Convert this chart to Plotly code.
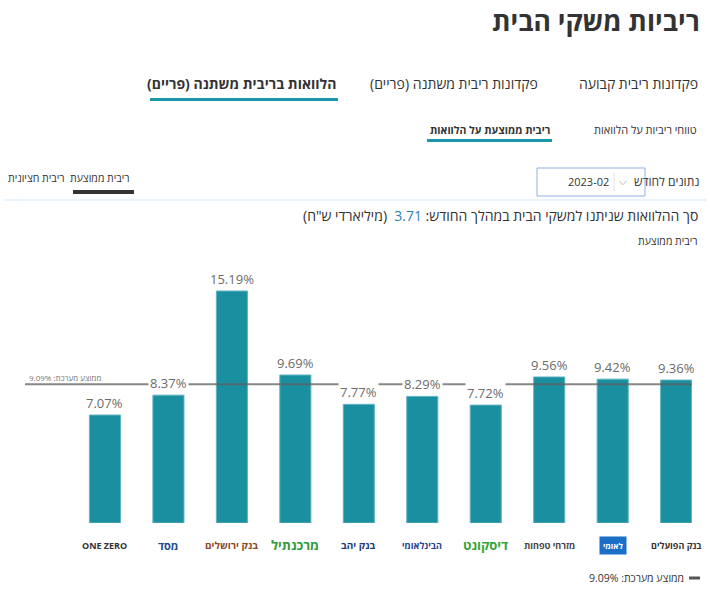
import plotly.graph_objects as go

# ---- data ----
banks = ["ONE ZERO", "מסד", "בנק ירושלים", "מרכנתיל", "בנק יהב",
         "הבינלאומי", "דיסקונט", "מזרחי טפחות", "לאומי", "בנק הפועלים"]
rates = [7.07, 8.37, 15.19, 9.69, 7.77, 8.29, 7.72, 9.56, 9.42, 9.36]
system_avg = 9.09
total_loans = 3.71
month = "2023-02"

# logo stand-ins (text colour, background)
logo_fg = ["#333333", "#1d4b8f", "#8a4b2a", "#2e9a3c", "#1f3d7a",
           "#24418f", "#38a436", "#444444", "#ffffff", "#333333"]
logo_bg = [None, None, None, None, None, None, None, None, "#1b6fc6", None]
logo_size = [9, 11, 10, 13, 10, 9, 13, 9, 8, 9]

RLM = "\u200f"
FONT = "Open Sans, Liberation Sans, DejaVu Sans, sans-serif"
TEAL = "#1a8fa0"

W, H = 710, 600
L, R, T, B = 25, 18, 240, 77
PW, PH = W - L - R, H - T - B


def px(x):
    return (x - L) / PW


def py(y):
    return 1 - (y - T) / PH


fig = go.Figure()
fig.add_trace(go.Bar(
    x=banks, y=rates, width=0.49,
    marker=dict(color=TEAL, line=dict(color="#62b4c1", width=1)),
    hoverinfo="skip", showlegend=False,
))

ann = []
shapes = []

# average line
shapes.append(dict(type="line", xref="paper", yref="y", x0=0, x1=1,
                   y0=system_avg, y1=system_avg, layer="above",
                   line=dict(color="rgba(95,95,95,0.75)", width=2)))
ann.append(dict(xref="paper", yref="y", x=px(27), y=system_avg, yshift=7,
                xanchor="left", yanchor="middle", showarrow=False,
                text=f"ממוצע מערכת: {system_avg:.2f}%",
                font=dict(size=8, color="#777777", family=FONT)))

# bar value labels
for b, r in zip(banks, rates):
    ann.append(dict(x=b, y=r, xref="x", yref="y", yanchor="bottom", yshift=1,
                    showarrow=False, text=f"{r:.2f}%", bgcolor="white",
                    borderpad=1,
                    font=dict(size=13, color="#6b6b6b", family=FONT)))

# logo stand-ins
for b, fg, bg, sz in zip(banks, logo_fg, logo_bg, logo_size):
    a = dict(x=b, xref="x", yref="paper", y=py(545), yanchor="middle",
             showarrow=False, text=f"<b>{b}</b>",
             font=dict(size=sz, color=fg, family=FONT))
    if bg:
        a["bgcolor"] = bg
        a["borderpad"] = 3
    ann.append(a)

# ---- page chrome ----
ann.append(dict(xref="paper", yref="paper", x=px(702), y=py(21), xanchor="right",
                yanchor="middle", showarrow=False, text="<b>ריביות משקי הבית</b>",
                font=dict(size=26.5, color="#333333", family=FONT)))

tabs = [("פקדונות ריבית קבועה", 700),
        ("פקדונות ריבית משתנה (פריים)" + RLM, 540),
        ("<b>הלוואות בריבית משתנה (פריים)" + RLM + "</b>", 338)]
for t, xr in tabs:
    ann.append(dict(xref="paper", yref="paper", x=px(xr), y=py(83), xanchor="right",
                    yanchor="middle", showarrow=False, text=t,
                    font=dict(size=14, color="#333333", family=FONT)))
shapes.append(dict(type="line", xref="paper", yref="paper", x0=px(150), x1=px(338),
                   y0=py(99.5), y1=py(99.5), line=dict(color="#1a97a8", width=3)))

ann.append(dict(xref="paper", yref="paper", x=px(699), y=py(130), xanchor="right",
                yanchor="middle", showarrow=False, text="טווחי ריביות על הלוואות",
                font=dict(size=11, color="#333333", family=FONT)))
ann.append(dict(xref="paper", yref="paper", x=px(552), y=py(130), xanchor="right",
                yanchor="middle", showarrow=False, text="<b>ריבית ממוצעת על הלוואות</b>",
                font=dict(size=10.5, color="#333333", family=FONT)))
shapes.append(dict(type="line", xref="paper", yref="paper", x0=px(427), x1=px(552),
                   y0=py(140.5), y1=py(140.5), line=dict(color="#1a97a8", width=3)))

ann.append(dict(xref="paper", yref="paper", x=px(132), y=py(178), xanchor="right",
                yanchor="middle", showarrow=False, text="ריבית ממוצעת",
                font=dict(size=10.5, color="#333333", family=FONT)))
ann.append(dict(xref="paper", yref="paper", x=px(67), y=py(178), xanchor="right",
                yanchor="middle", showarrow=False, text="ריבית חציונית",
                font=dict(size=10.5, color="#333333", family=FONT)))
shapes.append(dict(type="line", xref="paper", yref="paper", x0=px(73), x1=px(134),
                   y0=py(192), y1=py(192), line=dict(color="#333333", width=4)))

# dropdown
ann.append(dict(xref="paper", yref="paper", x=px(701), y=py(182), xanchor="right",
                yanchor="middle", showarrow=False, text="נתונים לחודש",
                font=dict(size=12, color="#333333", family=FONT)))
shapes.append(dict(type="rect", xref="paper", yref="paper", x0=px(537), x1=px(645),
                   y0=py(168), y1=py(196), line=dict(color="#8fb2dd", width=1),
                   fillcolor="white"))
shapes.append(dict(type="line", xref="paper", yref="paper", x0=px(614), x1=px(614),
                   y0=py(173), y1=py(191), line=dict(color="#e2e2e2", width=1)))
ann.append(dict(xref="paper", yref="paper", x=px(611), y=py(182), xanchor="right",
                yanchor="middle", showarrow=False, text=month,
                font=dict(size=11, color="#333333", family=FONT)))
ann.append(dict(xref="paper", yref="paper", x=px(623), y=py(181), xanchor="center",
                yanchor="middle", showarrow=False, text="⌵",
                font=dict(size=10, color="#9a9a9a", family="DejaVu Sans")))

# separator
shapes.append(dict(type="line", xref="paper", yref="paper", x0=px(4), x1=px(706),
                   y0=py(200), y1=py(200), line=dict(color="#d5e5f5", width=1)))

ann.append(dict(xref="paper", yref="paper", x=px(700), y=py(215), xanchor="right",
                yanchor="middle", showarrow=False,
                text=RLM + "סך ההלוואות שניתנו למשקי הבית במהלך החודש: "
                     + f"<span style='color:#2f7fb0'>{total_loans:.2f}</span>"
                     + "  (מיליארדי ש\"ח)" + RLM,
                font=dict(size=14, color="#333333", family=FONT)))
ann.append(dict(xref="paper", yref="paper", x=px(700), y=py(241), xanchor="right",
                yanchor="middle", showarrow=False, text="ריבית ממוצעת",
                font=dict(size=10.5, color="#333333", family=FONT)))

# bottom legend
shapes.append(dict(type="line", xref="paper", yref="paper", x0=px(689), x1=px(700),
                   y0=py(578), y1=py(578), line=dict(color="#555555", width=3)))
ann.append(dict(xref="paper", yref="paper", x=px(686), y=py(578), xanchor="right",
                yanchor="middle", showarrow=False, text=f"ממוצע מערכת: {system_avg:.2f}%",
                font=dict(size=10.5, color="#333333", family=FONT)))

fig.update_layout(
    width=W, height=H,
    margin=dict(l=L, r=R, t=T, b=B, pad=0),
    paper_bgcolor="white", plot_bgcolor="white",
    font=dict(family=FONT),
    xaxis=dict(type="category", range=[-1.26, 9.25], showticklabels=False,
               showgrid=False, zeroline=False, showline=False, ticks=""),
    yaxis=dict(range=[0, 18.53], showticklabels=False, showgrid=False,
               zeroline=False, showline=False, ticks=""),
    annotations=ann, shapes=shapes, showlegend=False,
)

fig.write_html("out.html", config={"displayModeBar": False})
